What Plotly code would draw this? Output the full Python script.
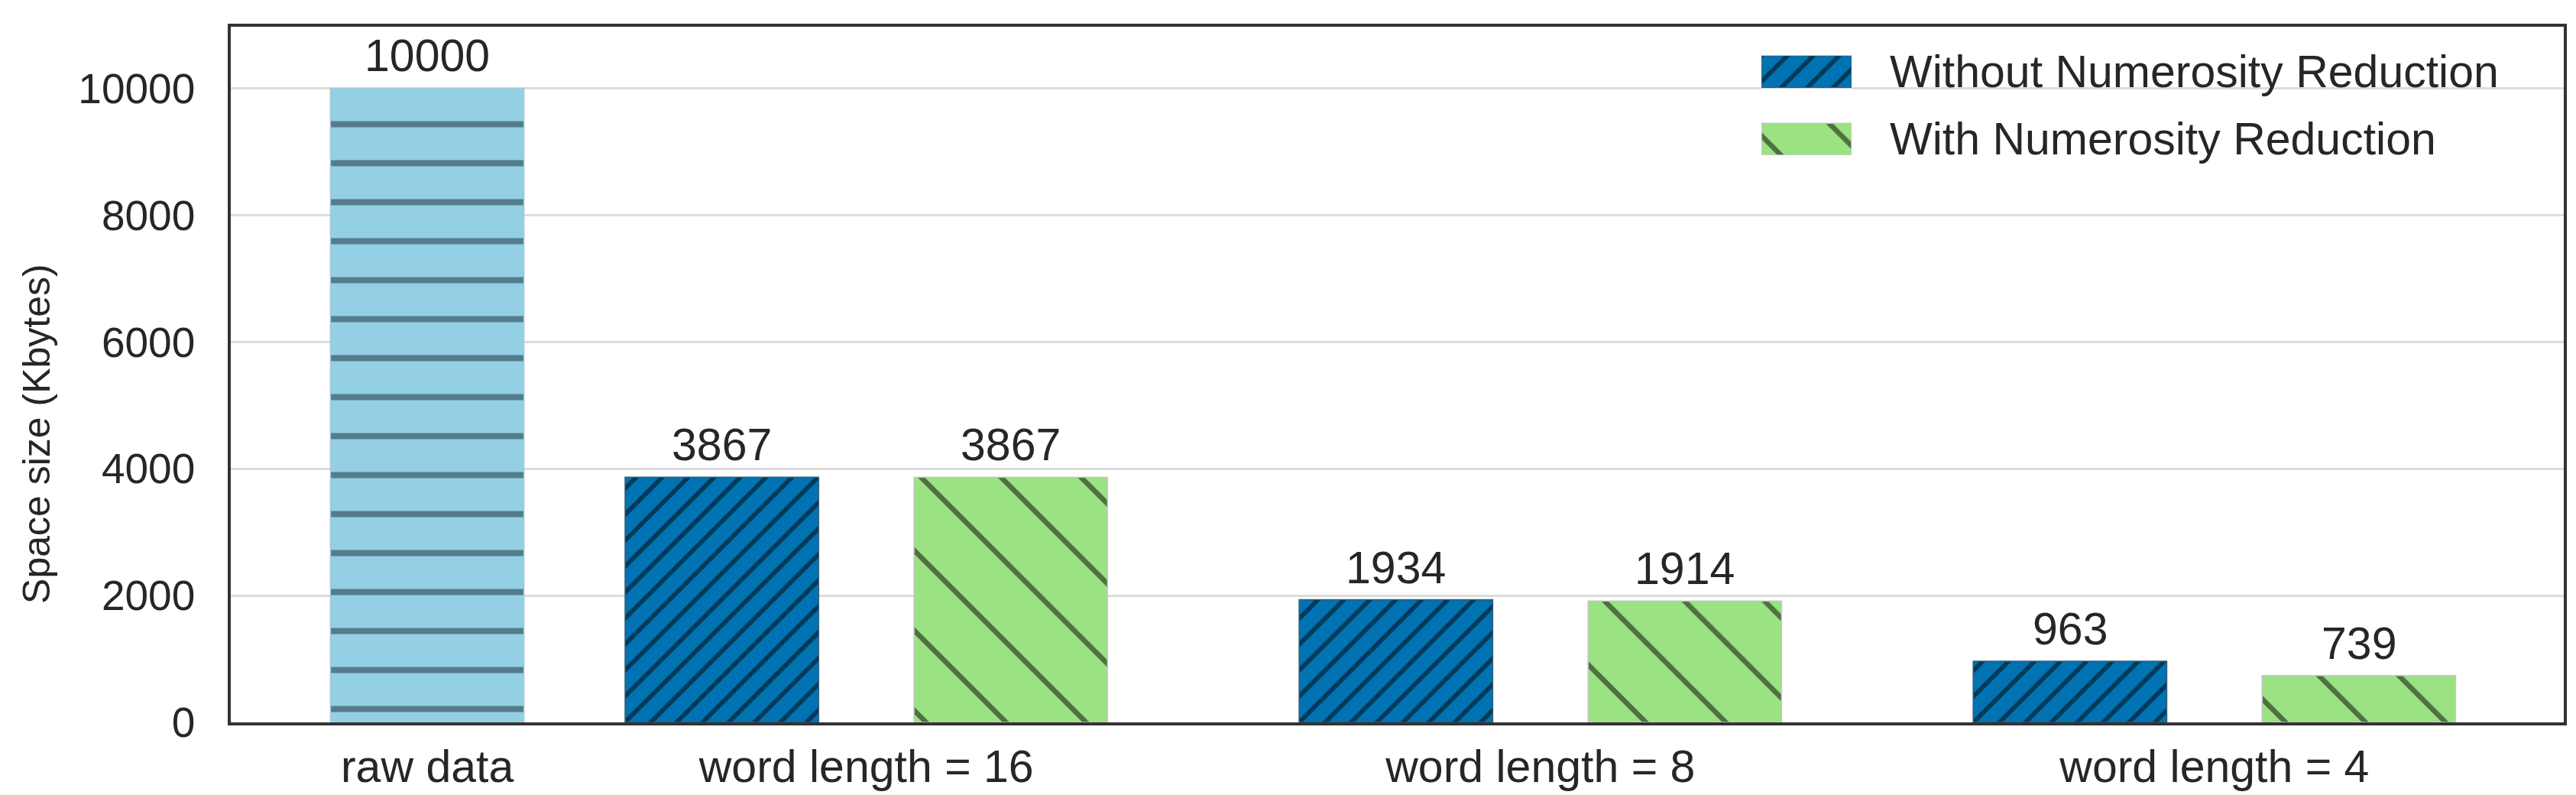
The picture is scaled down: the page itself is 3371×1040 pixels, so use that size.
import plotly.graph_objects as go

# ---- data ----
categories = ["raw data", "word length = 16", "word length = 8", "word length = 4"]
raw_size = [10000]
series_names = ["Without Numerosity Reduction", "With Numerosity Reduction"]
without_reduction = [3867, 1934, 963]
with_reduction = [3867, 1914, 739]
y_ticks = [0, 2000, 4000, 6000, 8000, 10000]
y_title = "Space size (Kbytes)"

# ---- layout constants ----
RAW_X = -0.02
GROUP_START = 1.5
GROUP_STEP = 7 / 3
BAR_OFFSET = 0.5
BAR_WIDTH = 0.67

FONT = "Liberation Sans, Arial, sans-serif"
TEXT_COLOR = "#262626"
FONT_SIZE = 59

RAW_FILL = "#93cfe5"
BLUE_FILL = "#0173b2"
GREEN_FILL = "#9be283"

group_x = [GROUP_START + i * GROUP_STEP for i in range(len(without_reduction))]
tick_x = [RAW_X] + group_x
blue_x = [c - BAR_OFFSET for c in group_x]
green_x = [c + BAR_OFFSET for c in group_x]

raw_marker = {
    "color": RAW_FILL,
    "line": {"color": "#a8cad8", "width": 1.5},
    "pattern": {"shape": "-", "size": 51, "solidity": 0.16, "fgcolor": "#182a32"},
}
blue_marker = {
    "color": BLUE_FILL,
    "line": {"color": "#3a5a70", "width": 1.5},
    "pattern": {"shape": "/", "size": 24, "solidity": 0.24, "fgcolor": "#000000"},
}
green_marker = {
    "color": GREEN_FILL,
    "line": {"color": "#c8c8c8", "width": 1.5},
    "pattern": {"shape": "\\", "size": 74, "solidity": 0.09, "fgcolor": "#000000"},
}

text_font = {"family": FONT, "size": FONT_SIZE, "color": TEXT_COLOR}


def _bar(x, y, marker):
    return go.Bar(
        x=x,
        y=y,
        width=BAR_WIDTH,
        marker=marker,
        showlegend=False,
        hoverinfo="x+y",
    )


fig = go.Figure()
fig.add_trace(_bar([RAW_X], raw_size, raw_marker))
fig.add_trace(_bar(blue_x, without_reduction, blue_marker))
fig.add_trace(_bar(green_x, with_reduction, green_marker))

# value labels above each bar
for xs, ys in [([RAW_X], raw_size), (blue_x, without_reduction), (green_x, with_reduction)]:
    for x, y in zip(xs, ys):
        fig.add_annotation(
            x=x,
            y=y,
            text=str(y),
            showarrow=False,
            yanchor="bottom",
            yshift=7,
            font=text_font,
        )

# legend drawn on a small inset axis so the swatches keep their hatch size
for row, (name, marker) in enumerate(zip(series_names, [blue_marker, green_marker])):
    ypos = len(series_names) - 1 - row
    fig.add_trace(
        go.Bar(
            x=[1],
            y=[ypos],
            orientation="h",
            width=0.47,
            marker=marker,
            xaxis="x2",
            yaxis="y2",
            showlegend=False,
            hoverinfo="skip",
        )
    )
    fig.add_annotation(
        x=0.7104,
        xref="paper",
        y=ypos,
        yref="y2",
        text=name,
        showarrow=False,
        xanchor="left",
        yanchor="middle",
        font=text_font,
    )

# y axis title, placed as in the reference (slightly below the axis centre)
fig.add_annotation(
    x=-0.083,
    xref="paper",
    y=0.415,
    yref="paper",
    text=y_title,
    textangle=-90,
    showarrow=False,
    xanchor="center",
    yanchor="middle",
    font={"family": FONT, "size": 50, "color": TEXT_COLOR},
)

axis_line = {"showline": True, "mirror": True, "linecolor": "#333333", "linewidth": 3.5}

fig.update_layout(
    width=3371,
    height=1040,
    margin={"l": 294, "r": 24, "t": 27, "b": 97},
    paper_bgcolor="white",
    plot_bgcolor="white",
    barmode="overlay",
    showlegend=False,
    font={"family": FONT, "size": FONT_SIZE, "color": TEXT_COLOR},
    xaxis={
        **axis_line,
        "range": [-0.70, 7.376],
        "tickmode": "array",
        "tickvals": tick_x,
        "ticktext": categories,
        "ticks": "outside",
        "ticklen": 3,
        "tickcolor": "rgba(0,0,0,0)",
        "showgrid": False,
        "zeroline": False,
        "tickfont": text_font,
    },
    yaxis={
        **axis_line,
        "range": [0, 10970],
        "tickmode": "array",
        "tickvals": y_ticks,
        "ticktext": [str(v) for v in y_ticks],
        "ticks": "outside",
        "ticklen": 32,
        "tickcolor": "rgba(0,0,0,0)",
        "showgrid": True,
        "gridcolor": "#dcdcdc",
        "gridwidth": 2.5,
        "zeroline": False,
        "tickfont": {"family": FONT, "size": 55, "color": TEXT_COLOR},
    },
    xaxis2={
        "domain": [0.6561, 0.6947],
        "anchor": "y2",
        "range": [0, 1],
        "visible": False,
        "fixedrange": True,
    },
    yaxis2={
        "domain": [0.8155, 0.9585],
        "anchor": "x2",
        "range": [-0.235, 1.235],
        "visible": False,
        "fixedrange": True,
    },
)

fig.write_html("out.html")
